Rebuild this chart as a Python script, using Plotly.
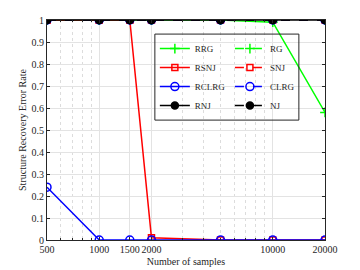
import plotly.graph_objects as go

samples = [500, 1000, 1500, 2000, 5000, 10000, 20000]
rrg = [1, 1, 1, 1, 1, 0.99, 0.58]
rg = [1, 1, 1, 1, 1, 1, 1]
rsnj = [1, 1, 1, 0.01, 0, 0, 0]
snj = [1, 1, 1, 1, 1, 1, 1]
rclrg = [0.24, 0, 0, 0, 0, 0, 0]
clrg = [1, 1, 1, 1, 1, 1, 1]
rnj = [1, 1, 1, 1, 1, 1, 1]
nj = [1, 1, 1, 1, 1, 1, 1]
xticks = [500, 1000, 1500, 2000, 10000, 20000]
yticks = [0, 0.1, 0.2, 0.3, 0.4, 0.5, 0.6, 0.7, 0.8, 0.9, 1]

series = [
    ("RRG", rrg, "#00FF00", "solid", "cross-thin", 7, "legend"),
    ("RG", rg, "#00FF00", "dash", "cross-thin", 7, "legend2"),
    ("RSNJ", rsnj, "#FF0000", "solid", "square-open", 6, "legend"),
    ("SNJ", snj, "#FF0000", "dash", "square-open", 6, "legend2"),
    ("RCLRG", rclrg, "#0000FF", "solid", "circle-open", 8, "legend"),
    ("CLRG", clrg, "#0000FF", "dash", "circle-open", 8, "legend2"),
    ("RNJ", rnj, "#000000", "solid", "circle", 7, "legend"),
    ("NJ", nj, "#000000", "dash", "circle", 7, "legend2"),
]

fig = go.Figure()
for name, ys, color, dash, sym, size, leg in series:
    fig.add_trace(go.Scatter(
        x=samples, y=ys, name=name, mode="lines+markers", legend=leg,
        line=dict(color=color, width=1.5, dash=dash),
        marker=dict(symbol=sym, size=size, color=color,
                    line=dict(color=color, width=1.5)),
    ))

axis_common = dict(
    showline=True, linecolor="#262626", linewidth=1, mirror="ticks",
    ticks="inside", ticklen=3, tickcolor="#262626",
    gridcolor="#e3e3e3", gridwidth=1, zeroline=False,
    tickangle=0,
    tickfont=dict(family="Liberation Serif", size=10, color="#262626"),
)

leg_common = dict(orientation="v", yanchor="top", xanchor="left",
                  bgcolor="rgba(255,255,255,0)", borderwidth=0, tracegroupgap=0,
                  font=dict(family="Liberation Serif", size=9, color="#262626"),
                  itemwidth=30)

fig.update_layout(
    width=360, height=270,
    margin=dict(l=39, r=43, t=12, b=38),
    paper_bgcolor="white", plot_bgcolor="white",
    font=dict(family="Liberation Serif", size=10, color="#262626"),
    xaxis=dict(type="log", range=[2.699, 4.301], tickvals=xticks,
               ticktext=[str(v) for v in xticks], automargin="bottom",
               title=dict(text="Number of samples", standoff=3,
                          font=dict(family="Liberation Serif", size=10)),
               minor=dict(dtick="D1", showgrid=True, griddash="dot",
                          gridcolor="#dcdcdc", ticks="inside", ticklen=2,
                          tickcolor="#262626"),
               **axis_common),
    yaxis=dict(range=[0, 1.0], tickvals=yticks, automargin="left",
               ticktext=[("%g" % v) for v in yticks],
               title=dict(text="Structure Recovery Error Rate", standoff=3,
                          font=dict(family="Liberation Serif", size=10)),
               **axis_common),
    legend=dict(x=0.388, y=0.936, **leg_common),
    legend2=dict(x=0.658, y=0.936, **leg_common),
    showlegend=True,
    shapes=[dict(type="rect", xref="paper", yref="paper",
                 x0=0.388, x1=0.906, y0=0.545, y1=0.936,
                 line=dict(color="#262626", width=1), layer="above")],
)

fig.write_html("out.html")
